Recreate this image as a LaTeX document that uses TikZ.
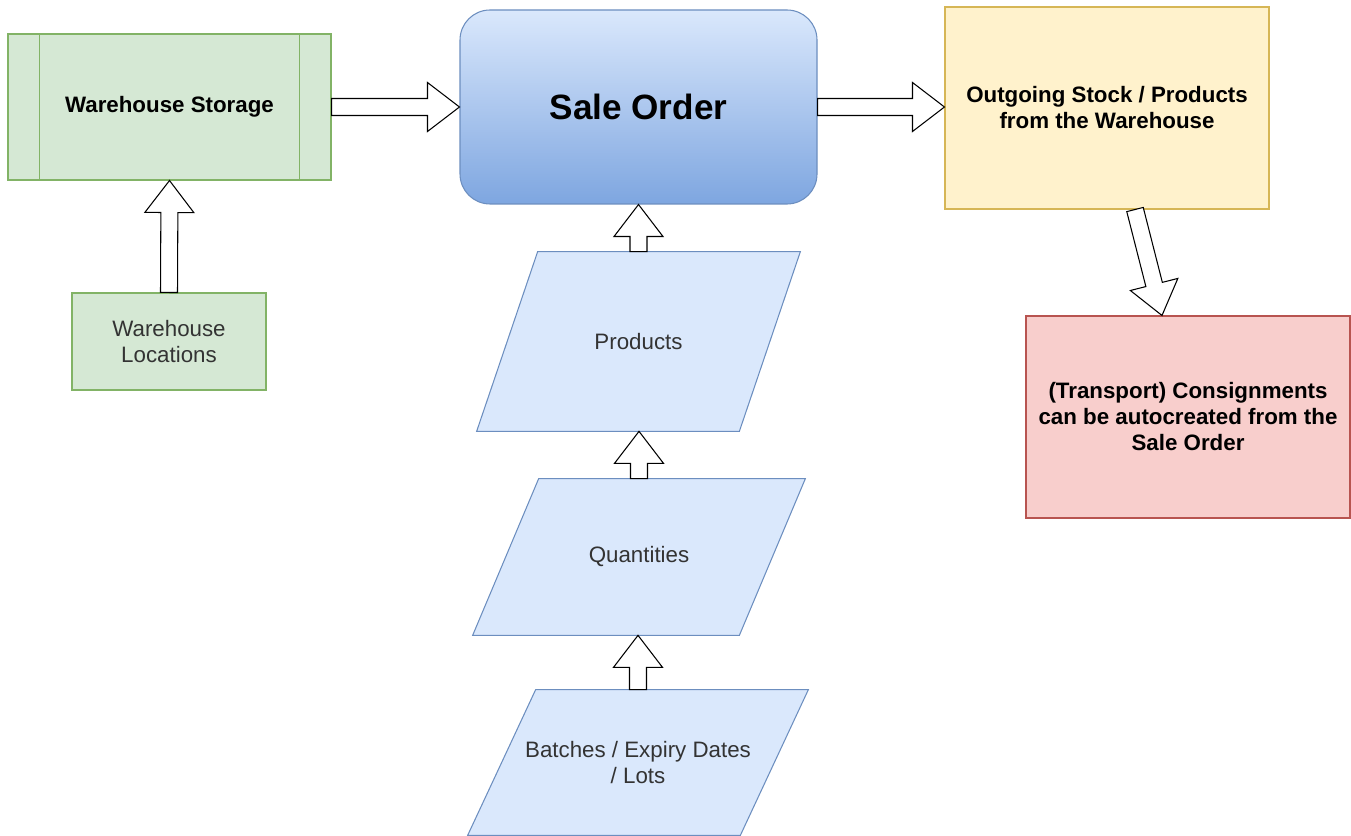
\documentclass[tikz,border=0pt]{standalone}
\usepackage{fontspec}
\setmainfont{Liberation Sans}
\usetikzlibrary{calc,backgrounds}
\definecolor{greenfill}{HTML}{D5E8D4}
\definecolor{greenline}{HTML}{82B366}
\definecolor{bluefill}{HTML}{DAE8FC}
\definecolor{bluedark}{HTML}{7EA6E0}
\definecolor{blueline}{HTML}{6C8EBF}
\definecolor{yellowfill}{HTML}{FFF2CC}
\definecolor{yellowline}{HTML}{D6B656}
\definecolor{redfill}{HTML}{F8CECC}
\definecolor{redline}{HTML}{B85450}
\definecolor{textgray}{HTML}{333333}
\tikzset{%
	fat/.style={draw=black,fill=white,line width=0.6pt,line join=miter,to path={%
	($(\tikztostart)!0.17cm!90:(\tikztotarget)$)
	--($($(\tikztotarget)!0.64cm!(\tikztostart)$)!0.17cm!90:(\tikztotarget)$)
	--($($(\tikztotarget)!0.64cm!(\tikztostart)$)!0.49cm!90:(\tikztotarget)$)
	--(\tikztotarget)
	--($($(\tikztotarget)!0.64cm!(\tikztostart)$)!0.49cm!-90:(\tikztotarget)$)
	--($($(\tikztotarget)!0.64cm!(\tikztostart)$)!0.17cm!-90:(\tikztotarget)$)
	--($(\tikztostart)!0.17cm!-90:(\tikztotarget)$)
	--cycle}}
}
\begin{document}
\begin{tikzpicture}[box/.style={draw,line width=0.6pt,align=center,inner sep=0pt,font=\fontsize{12.7}{14.8}\selectfont\bfseries},
	data/.style={align=center,inner sep=0pt,text=textgray,font=\fontsize{12.7}{14.8}\selectfont}]
				\useasboundingbox (0,0) rectangle (27.02,-16.72);
				\node [box, fill=greenfill, draw=greenline, minimum width=6.46cm, minimum height=2.92cm] (ws) at (3.39,-2.14) {Warehouse Storage};
				\draw [greenline, line width=0.6pt] ([xshift=0.64cm]ws.north west) -- ([xshift=0.64cm]ws.south west);
				\draw [greenline, line width=0.6pt] ([xshift=-0.64cm]ws.north east) -- ([xshift=-0.64cm]ws.south east);
				\node [data, draw=greenline, fill=greenfill, line width=0.6pt, minimum width=3.88cm, minimum height=1.94cm] (wl) at (3.38,-6.83) {Warehouse\\Locations};
				\node [box, draw=blueline, top color=bluefill, bottom color=bluedark, rounded corners=0.6cm, minimum width=7.14cm, minimum height=3.88cm, font=\fontsize{20}{24}\selectfont\bfseries] (so) at (12.77,-2.14) {Sale Order};
				\node [box, fill=yellowfill, draw=yellowline, minimum width=6.48cm, minimum height=4.04cm] (out) at (22.14,-2.16) {Outgoing Stock / Products\\from the Warehouse};
				\node [box, fill=redfill, draw=redline, minimum width=6.48cm, minimum height=4.04cm] (con) at (23.76,-8.34) {(Transport) Consignments\\can be autocreated from the\\Sale Order};
				\node [data, minimum width=6.46cm, minimum height=3.58cm] (prod) at (12.77,-6.83) {Products};
				\node [data, minimum width=6.64cm, minimum height=3.12cm] (qty) at (12.78,-11.14) {Quantities};
				\node [data, minimum width=6.80cm, minimum height=2.90cm] (lot) at (12.76,-15.25) {Batches / Expiry Dates\\/ Lots};
				\begin{scope}[on background layer]
				\foreach \n/\s in {prod/1.22,qty/1.32,lot/1.36}
					\draw [blueline, fill=bluefill, line width=0.6pt] ([xshift=\s cm]\n.north west) -- (\n.north east) -- ([xshift=-\s cm]\n.south east) -- (\n.south west) -- cycle;
				\end{scope}
				\coordinate (o1) at ($(out.south)+(0.56,0)$);
				\coordinate (c1) at ($(con.north)+(-0.52,0)$);
				\draw [fat] (wl.north) to (ws.south);
				\draw [fat] (ws.east) to (so.west);
				\draw [fat] (so.east) to (so.east -| out.west);
				\draw [fat] (prod.north) to (so.south);
				\draw [fat] (qty.north) to (qty.north |- prod.south);
				\draw [fat] (lot.north) to (lot.north |- qty.south);
				\draw [fat] (o1) to (c1);
			\end{tikzpicture}
\end{document}
